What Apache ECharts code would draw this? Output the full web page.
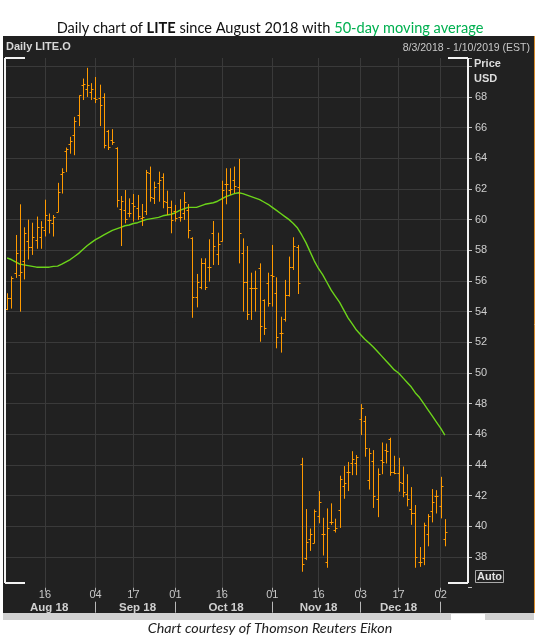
<!DOCTYPE html>
<html><head><meta charset="utf-8">
<script src="https://cdn.jsdelivr.net/npm/echarts@6/dist/echarts.min.js"></script>
<style>html,body{margin:0;padding:0;background:#fff}#c{width:538px;height:639px}</style>
</head><body><div id="c"></div>
<script>
// Trading days shown on the axis (Dec 5 2018 market closed)
const augDays = [3,6,7,8,9,10,13,14,15,16,17,20,21,22,23,24,27,28,29,30,31];
const sepDays = [4,5,6,7,10,11,12,13,14,17,18,19,20,21,24,25,26,27,28];
const octDays = [1,2,3,4,5,8,9,10,11,12,15,16,17,18,19,22,23,24,25,26,29,30,31];
const novDays = [1,2,5,6,7,8,9,12,13,14,15,16,19,20,21,23,26,27,28,29,30];
const decDays = [3,4,6,7,10,11,12,13,14,17,18,19,20,21,24,26,27,28,31];
const janDays = [2,3,4,7,8,9,10];

// Daily OHLC (Aug 3 2018 .. Jan 3 2019)
const opens = [54.2,54.9,56.5,56.4,57.3,58.6,58.2,58.7,58.9,59.3,60.0,59.8,60.5,63.0,64.5,64.9,65.5,66.8,68.8,68.5,68.3,67.9,67.9,68.0,65.8,65.2,64.65,60.67,60.63,60.41,61.11,60.74,60.09,60.59,63.02,61.39,62.41,62.8,61.17,60.85,60.59,60.15,60.46,60.63,58.8,54.98,55.63,57.2,56.89,59.11,57.76,58.63,62.33,61.93,62.59,62.15,57.8,55.96,55.57,55.52,56.83,54.76,55.89,56.39,55.2,52.59,53.5,55.09,56.93,58.24,44.04,37.95,39.2,38.9,40.7,39.5,37.7,40.3,39.76,41.06,42.6,43.56,44.1,44.1,46.99,46.9,43.0,44.26,41.8,44.3,45.0,45.7,43.56,43.45,42.8,42.08,41.1,40.84,37.7,37.95,39.5,40.99,42.0,41.3,39.17];
const highs = [55.2,56.3,59.0,61.0,59.5,60.0,59.8,60.2,59.9,61.3,60.4,60.3,62.4,63.35,64.7,65.4,66.7,68.1,69.2,69.9,68.9,69.3,68.8,68.24,65.85,65.9,64.72,61.54,61.93,61.39,61.67,61.61,61.02,63.24,63.46,62.48,63.13,63.02,61.89,61.24,60.96,61.33,61.8,61.02,58.85,56.46,57.48,57.48,58.72,59.91,59.15,62.54,63.35,63.35,63.46,63.96,58.78,58.28,56.54,56.67,57.15,54.8,56.54,58.35,56.24,53.67,56.07,57.59,58.85,58.35,44.47,41.13,39.86,41.1,42.3,40.56,41.17,41.5,40.5,43.3,43.93,44.2,44.9,44.65,47.97,47.2,45.1,44.97,43.78,45.47,45.4,45.78,44.6,44.47,43.9,43.4,42.56,41.39,38.65,40.24,40.8,42.43,42.36,43.23,40.47];
const lows = [54.1,54.2,56.2,54.0,56.1,57.4,57.7,58.1,58.1,58.9,59.1,58.9,60.5,61.7,63.1,64.3,64.2,66.1,67.8,68.0,67.8,67.6,66.1,64.65,64.54,64.87,60.8,58.28,59.76,60.15,59.87,59.98,59.59,60.3,61.17,61.02,61.17,60.74,60.3,59.11,59.87,59.87,59.98,58.78,53.6,54.28,55.46,55.41,55.96,57.04,57.04,58.57,61.0,61.61,61.72,57.15,54.0,53.46,53.46,54.0,52.04,52.48,54.33,54.33,51.61,51.33,53.35,54.98,56.72,55.15,37.04,37.8,38.4,38.9,40.2,38.1,37.3,40.1,39.6,39.9,41.8,42.3,43.34,43.34,45.95,44.54,42.4,41.2,40.6,43.4,44.1,43.3,43.4,42.26,41.9,41.3,40.1,37.3,37.36,37.47,38.7,40.26,40.84,40.52,38.7];
const closes = [54.9,56.2,57.8,56.6,59.1,58.2,58.9,59.5,59.5,60.3,60.0,60.2,61.8,63.1,64.6,65.1,66.4,68.1,68.85,68.8,68.5,67.85,67.5,64.87,64.76,65.09,61.28,61.24,60.02,60.41,60.89,60.24,60.2,63.09,61.5,62.11,62.59,61.24,60.85,59.98,60.09,60.15,61.17,59.33,54.98,55.96,57.2,55.63,56.93,58.28,58.41,61.93,62.33,61.98,62.2,59.11,55.96,53.85,55.57,55.52,53.06,52.91,54.59,56.33,52.33,52.59,55.09,56.89,58.28,55.89,37.52,39.0,39.5,41.0,41.56,39.5,39.9,40.3,39.9,43.06,42.8,43.56,44.4,44.5,47.7,45.1,44.76,42.0,43.4,44.2,44.9,43.56,43.45,42.86,42.26,41.78,40.84,38.0,37.7,40.1,40.7,41.56,42.0,42.63,39.65];
// 50-day moving average as drawn
const ma50 = [57.5,57.4,57.25,57.1,57.05,57.0,56.95,56.9,56.9,56.9,56.9,56.95,56.97,57.1,57.25,57.4,57.6,57.8,58.05,58.3,58.5,58.7,58.85,59.0,59.15,59.3,59.4,59.5,59.6,59.65,59.75,59.8,59.9,60.0,60.05,60.1,60.15,60.25,60.3,60.35,60.45,60.6,60.7,60.8,60.8,60.8,60.9,61.0,61.05,61.1,61.2,61.35,61.5,61.6,61.7,61.75,61.7,61.6,61.5,61.4,61.3,61.15,61.0,60.8,60.6,60.4,60.2,60.0,59.75,59.45,59.0,58.5,57.9,57.3,56.8,56.4,55.9,55.4,55.0,54.6,54.1,53.6,53.2,52.8,52.5,52.2,51.95,51.7,51.4,51.1,50.8,50.5,50.2,50.0,49.7,49.4,49.1,48.7,48.4,48.0,47.6,47.2,46.8,46.4,45.95];

// Axis labels
const tickDates = ['2018-08-16','2018-09-04','2018-09-17','2018-10-01','2018-10-16','2018-11-01','2018-11-16','2018-12-03','2018-12-17','2019-01-02'];
const tickLabels = ['16','04','17','01','16','01','16','03','17','02'];
const monthLabelDates = ['2018-08-17','2018-09-18','2018-10-17','2018-11-16','2018-12-17'];
const monthLabels = ['Aug 18','Sep 18','Oct 18','Nov 18','Dec 18'];
const monthStartDates = ['2018-09-04','2018-10-01','2018-11-01','2018-12-03','2019-01-02'];
const yLabelMin = 38, yLabelMax = 68;

const categories = [];
[['2018-08',augDays],['2018-09',sepDays],['2018-10',octDays],['2018-11',novDays],['2018-12',decDays],['2019-01',janDays]]
  .forEach(([m, ds]) => ds.forEach(d => categories.push(m + '-' + String(d).padStart(2,'0'))));

const ohlc = opens.map((o, i) => [i, o, closes[i], lows[i], highs[i]]);

const ORANGE = '#ff9a00';
const GREEN = '#6cd41a';
const GRIDC = '#3a3a3a';
const L = 5, R = 468, T = 58, B = 583;

const tickSet = new Set(tickDates);
const monthLblSet = new Set(monthLabelDates);
const monthStartSet = new Set(monthStartDates);

const chart = echarts.init(document.getElementById('c'), null, {renderer: 'canvas'});
chart.setOption({
  animation: false,
  backgroundColor: '#ffffff',
  grid: {left: L, right: 538 - R, top: T, bottom: 639 - 587.7, show: false},
  xAxis: [{
    type: 'category', data: categories, boundaryGap: true,
    axisLine: {show: false},
    axisTick: {show: true, alignWithLabel: true, length: 4, interval: (i, v) => tickSet.has(v), lineStyle: {color: '#b0b0b0'}},
    axisLabel: {interval: (i, v) => tickSet.has(v), formatter: v => tickLabels[tickDates.indexOf(v)] || '',
      color: '#c8c8c8', fontSize: 11, fontFamily: 'Liberation Sans', margin: 2},
    splitLine: {show: true, alignWithLabel: true, interval: (i, v) => tickSet.has(v), lineStyle: {color: GRIDC, width: 1}}
  }, {
    type: 'category', data: categories, boundaryGap: true, position: 'bottom', offset: 14,
    axisLine: {show: false},
    axisTick: {show: true, alignWithLabel: true, length: 11, interval: (i, v) => monthStartSet.has(v), lineStyle: {color: '#b8b8b8'}},
    axisLabel: {interval: (i, v) => monthLblSet.has(v), formatter: v => monthLabels[monthLabelDates.indexOf(v)] || '',
      color: '#d0d0d0', fontSize: 11.5, fontWeight: 'bold', fontFamily: 'Liberation Sans', margin: 0},
    splitLine: {show: false}
  }],
  yAxis: {
    type: 'value', position: 'right', min: 36, max: 70.54, interval: 2,
    axisLine: {show: false},
    axisTick: {show: true, length: 4, lineStyle: {color: '#c0c0c0'}},
    axisLabel: {margin: 7, color: '#cfcfcf', fontSize: 11, fontFamily: 'Liberation Sans',
      formatter: v => (v >= yLabelMin && v <= yLabelMax && Math.abs(v - Math.round(v)) < 1e-6) ? String(v) : ''},
    splitLine: {show: true, showMinLine: false, showMaxLine: false, lineStyle: {color: GRIDC, width: 1}}
  },
  series: [{
    type: 'line', name: 'MA50', data: ma50, symbol: 'none', z: 3,
    lineStyle: {color: GREEN, width: 1.4}
  }, {
    type: 'custom', name: 'LITE.O', data: ohlc, z: 4,
    encode: {x: 0, y: [1, 2, 3, 4]},
    renderItem: (params, api) => {
      const i = api.value(0);
      const o = api.coord([i, api.value(1)]);
      const c = api.coord([i, api.value(2)]);
      const lo = api.coord([i, api.value(3)]);
      const hi = api.coord([i, api.value(4)]);
      const px = Math.round(hi[0]) + 0.5;
      const st = {stroke: ORANGE, lineWidth: 1};
      return {type: 'group', children: [
        {type: 'line', shape: {x1: px, y1: hi[1], x2: px, y2: lo[1]}, style: st},
        {type: 'line', shape: {x1: px - 2, y1: Math.round(o[1]) + 0.5, x2: px, y2: Math.round(o[1]) + 0.5}, style: st},
        {type: 'line', shape: {x1: px, y1: Math.round(c[1]) + 0.5, x2: px + 2, y2: Math.round(c[1]) + 0.5}, style: st}
      ]};
    }
  }],
  graphic: [
    {type: 'rect', z: -10, silent: true, shape: {x: 3, y: 36, width: 531, height: 577}, style: {fill: '#212121'}},
    {type: 'line', z: 10, silent: true, shape: {x1: 534.5, y1: 36, x2: 534.5, y2: 613}, style: {stroke: '#d98c2b', lineWidth: 1}},
    {type: 'rect', z: 10, silent: true, shape: {x: 3, y: 613, width: 531, height: 7}, style: {fill: '#d2d2d2'}},
    {type: 'rect', z: 11, silent: true, shape: {x: 451, y: 614, width: 34, height: 6}, style: {fill: '#ffffff'}},
    // frame
    {type: 'line', z: 10, silent: true, shape: {x1: L, y1: T, x2: L, y2: B}, style: {stroke: '#f2f2f2', lineWidth: 2}},
    {type: 'line', z: 10, silent: true, shape: {x1: R, y1: T, x2: R, y2: B}, style: {stroke: '#f2f2f2', lineWidth: 2}},
    {type: 'line', z: 10, silent: true, shape: {x1: L, y1: T, x2: L + 20, y2: T}, style: {stroke: '#f2f2f2', lineWidth: 2}},
    {type: 'line', z: 10, silent: true, shape: {x1: R - 20, y1: T, x2: R, y2: T}, style: {stroke: '#f2f2f2', lineWidth: 2}},
    {type: 'line', z: 10, silent: true, shape: {x1: L, y1: B, x2: L + 20, y2: B}, style: {stroke: '#f2f2f2', lineWidth: 2}},
    {type: 'line', z: 10, silent: true, shape: {x1: R - 20, y1: B, x2: R, y2: B}, style: {stroke: '#f2f2f2', lineWidth: 2}},
    // texts
    {type: 'text', z: 10, silent: true, x: 270, y: 28, style: {
      text: '{a|Daily chart of }{b|LITE}{a| since August 2018 with }{g|50-day moving average}',
      align: 'center', verticalAlign: 'middle',
      rich: {
        a: {fontSize: 14.6, fontFamily: 'Lato', fill: '#111111', color: '#111111'},
        b: {fontSize: 14.6, fontFamily: 'Lato', fontWeight: 'bold', fill: '#111111', color: '#111111'},
        g: {fontSize: 14.6, fontFamily: 'Lato', fill: '#00b050', color: '#00b050'}
      }}},
    {type: 'text', z: 10, silent: true, x: 6, y: 47, style: {text: 'Daily LITE.O', font: 'bold 11px "Liberation Sans"', fill: '#d8d8d8', verticalAlign: 'middle'}},
    {type: 'text', z: 10, silent: true, x: 530, y: 48, style: {text: '8/3/2018 - 1/10/2019 (EST)', font: '10.5px "Liberation Sans"', fill: '#c8c8c8', align: 'right', verticalAlign: 'middle'}},
    {type: 'text', z: 10, silent: true, x: 474, y: 64, style: {text: 'Price', font: 'bold 11px "Liberation Sans"', fill: '#dcdcdc', verticalAlign: 'middle'}},
    {type: 'text', z: 10, silent: true, x: 474, y: 79, style: {text: 'USD', font: 'bold 11px "Liberation Sans"', fill: '#dcdcdc', verticalAlign: 'middle'}},
    {type: 'rect', z: 10, silent: true, shape: {x: 475.5, y: 570.5, width: 28, height: 12}, style: {fill: 'none', stroke: '#aaaaaa', lineWidth: 1}},
    {type: 'text', z: 10, silent: true, x: 489.5, y: 577, style: {text: 'Auto', font: 'bold 11px "Liberation Sans"', fill: '#e2e2e2', align: 'center', verticalAlign: 'middle'}},
    {type: 'text', z: 10, silent: true, x: 270, y: 628, style: {text: 'Chart courtesy of Thomson Reuters Eikon', font: 'italic 14.3px Lato', fill: '#222222', align: 'center', verticalAlign: 'middle'}}
  ]
});
</script></body></html>
